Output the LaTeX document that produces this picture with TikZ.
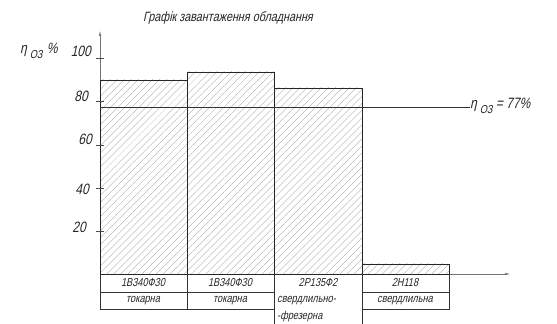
\documentclass[tikz,border=0pt]{standalone}
\usepackage{fontspec}
\setmainfont{Liberation Sans}[FakeSlant=0.22,FakeStretch=0.8]
\usetikzlibrary{patterns.meta,arrows.meta}
\begin{document}
\begin{tikzpicture}[x=1pt,y=1pt,
  bar/.style={draw=black!85,line width=0.9pt,
    pattern={Lines[angle=45,distance=5pt,line width=0.35pt]},pattern color=black!33},
  axisline/.style={draw=black!55,line width=0.5pt},
  tick/.style={draw=black!70,line width=0.6pt},
  grid/.style={draw=black!80,line width=0.6pt},
  lbl/.style={inner sep=0pt,font=\fontsize{15}{16}\selectfont},
  sub/.style={inner sep=0pt,font=\fontsize{11.5}{12}\selectfont},
  cell/.style={inner sep=0pt,font=\fontsize{11.5}{13}\selectfont,text=black!85},
  every node/.style={text=black!85}]
\useasboundingbox (0,0) rectangle (557,324);

% axes
\draw[axisline,-{Latex[length=5pt,width=2.5pt]}] (100,50) -- (100,293);
\draw[axisline,-{Latex[length=5pt,width=2.5pt]}] (100,50) -- (510,50);

% bars
\draw[bar] (100,50) rectangle (187,244);
\draw[bar] (187,50) rectangle (274,252);
\draw[bar] (274,50) rectangle (362,236);
\draw[bar] (362,50) rectangle (449,60);

% ticks
\foreach \yy in {266,223,179,136,93} \draw[tick] (96,\yy) -- (104,\yy);

% tick labels
\node[lbl,anchor=east] (t100) at (91,273) {100};
\node[lbl,anchor=east] (t80) at (88,228) {80};
\node[lbl,anchor=east] (t60) at (92,185) {60};
\node[lbl,anchor=east] (t40) at (89,135) {40};
\node[lbl,anchor=east] (t20) at (86,97) {20};

% axis name
\node[lbl,anchor=base west] (yeta) at (20,270) {η};
\node[sub,anchor=base west] (ysub) at ([xshift=2.5pt,yshift=-5pt]yeta.base east) {ОЗ};
\node[lbl,anchor=base west] (ypct) at ([xshift=4pt]ysub.base east |- yeta.base) {\%};

% average load level
\coordinate (avgA) at (100,217);
\node[lbl,anchor=base west] (aeta) at (470,215) {η};
\node[sub,anchor=base west] (asub) at ([xshift=2.5pt,yshift=-5pt]aeta.base east) {ОЗ};
\node[lbl,anchor=base west] (aval) at ([xshift=3pt]asub.base east |- aeta.base) {= 77\%};
\draw[grid,line width=0.8pt] (avgA) -- (aeta.west |- avgA);

% title
\node[lbl,font=\fontsize{13.5}{15}\selectfont] (title) at (228,306) {Графік завантаження обладнання};

% table under the bars
\draw[grid] (100,50) -- (100,15) -- (274,15);
\draw[grid] (100,32) -- (274,32);
\draw[grid] (362,32) -- (449,32);
\draw[grid] (362,15) -- (449,15) -- (449,50);
\draw[grid] (187,50) -- (187,15);
\draw[grid] (274,50) -- (274,0);
\draw[grid] (362,50) -- (362,0);

\node[cell] (m1) at (143,41) {1В340Ф30};
\node[cell] (m2) at (230,41) {1В340Ф30};
\node[cell] (m3) at (318,41) {2Р135Ф2};
\node[cell] (m4) at (405,41) {2Н118};
\node[cell] (k1) at (143,23.5) {токарна};
\node[cell] (k2) at (230,23.5) {токарна};
\node[cell,anchor=west] (k3a) at (277,23.5) {свердлильно-};
\node[cell,anchor=west] (k3b) at (277,7.5) {-фрезерна};
\node[cell] (k4) at (405,23.5) {свердлильна};
\end{tikzpicture}
\end{document}
